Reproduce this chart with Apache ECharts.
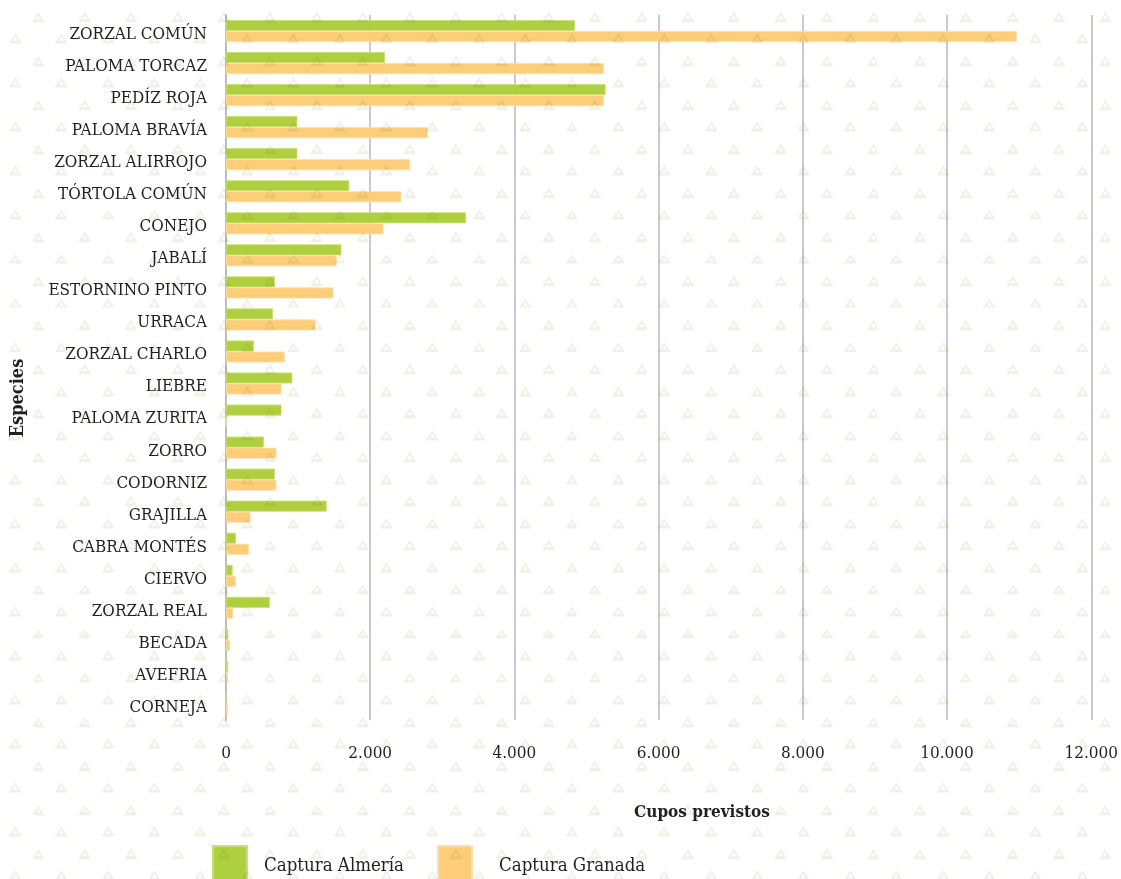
<!DOCTYPE html>
<html>
<head>
<meta charset="utf-8">
<script src="https://cdn.jsdelivr.net/npm/echarts@6/dist/echarts.min.js"></script>
<style>
html,body{margin:0;padding:0;background:#ffffff;}
#wrap{position:relative;width:1121px;height:879px;overflow:hidden;}
#chart{position:absolute;left:0;top:0;width:1121px;height:879px;}
#pattern{position:absolute;left:0;top:0;width:1121px;height:879px;pointer-events:none;mix-blend-mode:multiply;}
</style>
</head>
<body>
<div id="wrap">
<div id="chart"></div>
<div id="pattern"></div>
</div>
<script>
const categories = ['ZORZAL COMÚN','PALOMA TORCAZ','PEDÍZ ROJA','PALOMA BRAVÍA','ZORZAL ALIRROJO','TÓRTOLA COMÚN','CONEJO','JABALÍ','ESTORNINO PINTO','URRACA','ZORZAL CHARLO','LIEBRE','PALOMA ZURITA','ZORRO','CODORNIZ','GRAJILLA','CABRA MONTÉS','CIERVO','ZORZAL REAL','BECADA','AVEFRIA','CORNEJA'];
const capturaAlmeria = [4840, 2205, 5265, 990, 990, 1710, 3330, 1600, 678, 652, 388, 920, 770, 525, 678, 1397, 138, 92, 608, 30, 30, 0];
const capturaGranada = [10970, 5240, 5240, 2800, 2555, 2432, 2183, 1535, 1490, 1241, 815, 770, 0, 700, 700, 340, 317, 138, 100, 55, 25, 30];
const xTicks = {min: 0, max: 12000, interval: 2000};
const seriesNames = ['Captura Almería', 'Captura Granada'];
const axisNames = {x: 'Cupos previstos', y: 'Especies'};

// background triangle pattern (decoration)
(function(){
  const w = 46.4, h = 44.07;
  function tri(cx, cy){
    return 'M'+(cx-6.5)+' '+(cy+5)+' L'+(cx+6.5)+' '+(cy+5)+' L'+cx+' '+(cy-5.5)+' Z ' +
           'M'+(cx-2.4)+' '+(cy+2.2)+' L'+(cx+2.4)+' '+(cy+2.2)+' L'+cx+' '+(cy-1.8)+' Z';
  }
  const svg = '<svg xmlns="http://www.w3.org/2000/svg" width="'+w+'" height="'+h+'" viewBox="0 0 '+w+' '+h+'">' +
    '<path fill-rule="evenodd" fill="#eef3e3" d="'+tri(38.3,16.7)+' '+tri(15.1,38.7)+'"/></svg>';
  const el = document.getElementById('pattern');
  el.style.backgroundImage = 'url("data:image/svg+xml;utf8,' + encodeURIComponent(svg) + '")';
  el.style.backgroundSize = w+'px '+h+'px';
  el.style.backgroundRepeat = 'repeat';
})();

const FONT = '"DejaVu Serif Condensed", "DejaVu Serif", serif';
const TXT = '#231f20';
const chart = echarts.init(document.getElementById('chart'), null, {renderer: 'canvas'});
chart.setOption({
  backgroundColor: 'transparent',
  animation: false,
  grid: {left: 226, right: 22, top: 15, bottom: 159, containLabel: false},
  xAxis: {
    type: 'value',
    min: xTicks.min, max: xTicks.max, interval: xTicks.interval,
    axisLine: {show: false},
    axisTick: {show: false},
    splitLine: {show: true, lineStyle: {color: '#bdbdc1', width: 1.6}},
    axisLabel: {
      margin: 25,
      color: TXT,
      fontFamily: FONT,
      fontSize: 17,
      formatter: function(v){ return String(v).replace(/\B(?=(\d{3})+(?!\d))/g, '.'); }
    }
  },
  yAxis: {
    type: 'category',
    data: categories,
    inverse: true,
    axisLine: {show: true, lineStyle: {color: '#bdbdc1', width: 2}},
    axisTick: {show: false},
    splitLine: {show: false},
    axisLabel: {
      margin: 19, color: TXT, fontFamily: FONT, fontSize: 17,
      formatter: function(v){ return '{l|' + v + '}'; },
      rich: {l: {color: TXT, fontFamily: FONT, fontSize: 17, padding: [7, 0, 0, 0]}}
    }
  },
  legend: [
    {
      data: [seriesNames[0]], left: 212, top: 845, itemWidth: 34, itemHeight: 40, icon: 'rect',
      selectedMode: false, orient: 'horizontal', padding: 0,
      textStyle: {color: TXT, fontFamily: FONT, fontSize: 18.5, padding: [0, 0, 0, 12]}
    },
    {
      data: [seriesNames[1]], left: 437, top: 845, itemWidth: 34, itemHeight: 40, icon: 'rect',
      selectedMode: false, orient: 'horizontal', padding: 0,
      textStyle: {color: TXT, fontFamily: FONT, fontSize: 18.5, padding: [0, 0, 0, 22]}
    }
  ],
  graphic: [
    {type: 'text', x: 702, y: 813, style: {text: axisNames.x, fill: TXT, font: 'bold 17px ' + FONT, align: 'center', verticalAlign: 'middle'}},
    {type: 'text', x: 18, y: 398, rotation: Math.PI / 2, style: {text: axisNames.y, fill: TXT, font: 'bold 18px ' + FONT, align: 'center', verticalAlign: 'middle'}}
  ],
  series: [
    {
      name: seriesNames[0], type: 'bar', data: capturaAlmeria, barWidth: 11, barGap: '0%',
      itemStyle: {color: '#afd03e', borderColor: '#c9e07a', borderWidth: 0.8}
    },
    {
      name: seriesNames[1], type: 'bar', data: capturaGranada, barWidth: 11, barGap: '0%',
      itemStyle: {color: '#fdcd7a', borderColor: '#fee0a8', borderWidth: 0.8}
    }
  ]
});
</script>
</body>
</html>
